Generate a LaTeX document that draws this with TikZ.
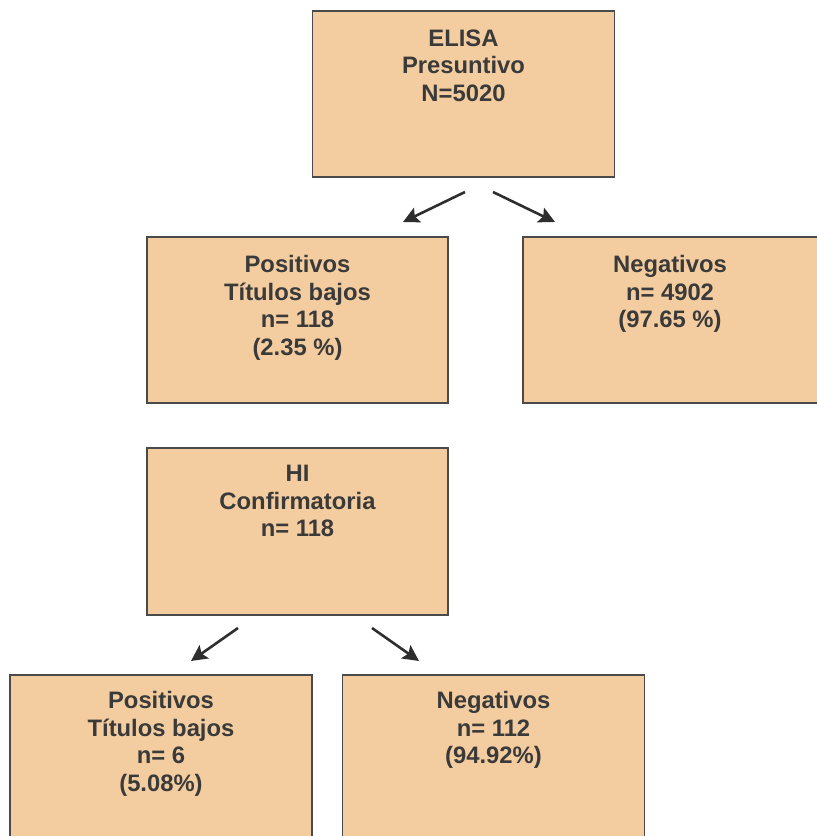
\documentclass[tikz,border=0pt]{standalone}
\usepackage{fontspec}
\setmainfont{Liberation Sans}
\usetikzlibrary{arrows.meta}
\definecolor{boxfill}{HTML}{F3CD9F}
\definecolor{boxline}{HTML}{4A4A4A}
\definecolor{txt}{HTML}{3A3A3A}
\definecolor{arr}{HTML}{2E2E2E}
\tikzset{
  box/.style={draw=boxline, fill=boxfill, line width=1.6pt, rectangle, inner sep=0pt},
  lbl/.style={anchor=north, inner sep=0pt, align=center, text=txt,
    font=\fontsize{23.8}{27.5}\selectfont\bfseries},
  arrowline/.style={draw=arr, line width=2.6pt, -{Stealth[length=16pt,width=16pt,inset=3pt]}}
}
\begin{document}
\begin{tikzpicture}[x=1pt,y=-1pt]
\useasboundingbox (0,0) rectangle (817,836);
\clip (0,0) rectangle (817,836);
% boxes (x from left, y from top)
\node[box, minimum width=302pt, minimum height=166pt] (elisa) at (463.5,94) {};
\node[box, minimum width=301pt, minimum height=166pt] (pos1) at (297.5,320) {};
\node[box, minimum width=300pt, minimum height=166pt] (neg1) at (673,320) {};
\node[box, minimum width=301pt, minimum height=167pt] (hi) at (297.5,531.5) {};
\node[box, minimum width=302pt, minimum height=170pt] (pos2) at (161,760) {};
\node[box, minimum width=302pt, minimum height=170pt] (neg2) at (493.5,760) {};
% labels
\node[lbl] (elisaT) at ([yshift=-19pt]elisa.north) {ELISA\\Presuntivo\\N=5020};
\node[lbl] (pos1T) at ([yshift=-19pt]pos1.north) {Positivos\\Títulos bajos\\n= 118\\(2.35 \%)};
\node[lbl] (neg1T) at ([xshift=-3pt,yshift=-19pt]neg1.north) {Negativos\\n= 4902\\(97.65 \%)};
\node[lbl] (hiT) at ([yshift=-18pt]hi.north) {HI\\Confirmatoria\\n= 118};
\node[lbl] (pos2T) at ([yshift=-17pt]pos2.north) {Positivos\\Títulos bajos\\n= 6\\(5.08\%)};
\node[lbl] (neg2T) at ([yshift=-17pt]neg2.north) {Negativos\\n= 112\\(94.92\%)};
% arrows
\coordinate (a1s) at (465,192);
\coordinate (a1e) at (403,222);
\coordinate (a2s) at (493,192);
\coordinate (a2e) at (555,222);
\coordinate (a3s) at (238,628);
\coordinate (a3e) at (191,661);
\coordinate (a4s) at (372,628);
\coordinate (a4e) at (419,661);
\draw[arrowline] (a1s) -- (a1e);
\draw[arrowline] (a2s) -- (a2e);
\draw[arrowline] (a3s) -- (a3e);
\draw[arrowline] (a4s) -- (a4e);
\end{tikzpicture}
\end{document}
